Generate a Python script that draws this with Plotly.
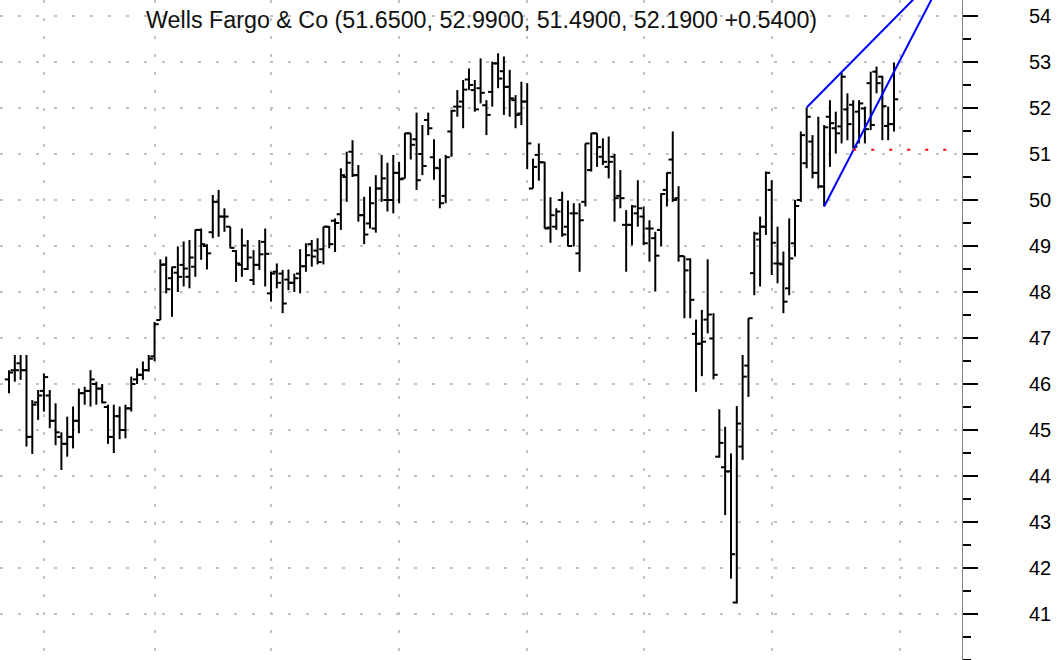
import plotly.graph_objects as go

# Daily prices, one entry per trading session
opens = [46.10, 46.30, 46.45, 46.30, 44.85, 45.60, 45.85, 45.75, 45.20, 44.85,
         44.70, 44.85, 45.20, 45.80, 45.85, 46.00, 45.90, 45.50, 44.85, 45.30,
         45.00, 45.47, 46.10, 46.20, 46.30, 46.60, 47.39, 48.60, 48.30, 48.42,
         48.59, 48.33, 48.55, 49.35, 49.00, 49.30, 49.96, 49.64, 49.42, 48.89,
         48.59, 48.50, 48.26, 48.59, 49.09, 47.97, 48.44, 48.40, 48.27, 48.20,
         48.40, 48.56, 49.04, 48.90, 48.93, 49.42, 49.55, 49.69, 50.50, 51.05,
         50.54, 49.67, 49.49, 49.38, 50.25, 50.00, 50.00, 50.59, 50.47, 51.45,
         51.32, 51.00, 51.74, 50.93, 50.69, 50.09, 51.49, 52.03, 52.14, 52.62,
         52.39, 52.43, 52.06, 52.35, 52.97, 52.80, 52.46, 52.17, 51.88, 52.14,
         50.25, 50.98, 50.82, 49.40, 49.42, 50.00, 49.42, 49.71, 48.84, 49.96,
         50.65, 51.45, 50.94, 50.72, 50.94, 50.09, 49.46, 49.46, 49.71, 49.64,
         49.38, 49.17, 49.35, 50.22, 50.88, 50.04, 48.78, 48.71, 47.09, 46.88,
         47.40, 46.99, 44.42, 44.19, 44.10, 41.25, 44.64, 46.40, 48.41, 49.14,
         49.42, 50.22, 48.62, 48.60, 48.08, 49.06, 50.00, 50.80, 51.27, 50.59,
         50.29, 51.81, 51.56, 51.60, 51.97, 52.07, 51.92, 51.99, 52.54, 52.79,
         52.68, 51.61, 51.65]
highs = [46.30, 46.63, 46.63, 46.63, 45.65, 45.87, 46.23, 45.87, 45.58, 44.95,
         45.29, 45.51, 45.90, 45.94, 46.30, 46.05, 46.00, 45.55, 45.55, 45.51,
         45.55, 46.16, 46.34, 46.49, 46.63, 47.35, 48.71, 48.77, 48.55, 48.99,
         49.10, 49.13, 49.36, 49.38, 49.04, 50.11, 50.22, 49.82, 49.42, 48.91,
         49.38, 49.13, 48.91, 49.13, 49.38, 48.44, 48.62, 48.48, 48.49, 48.40,
         48.93, 49.06, 49.13, 49.17, 49.42, 49.43, 49.60, 50.69, 51.05, 51.30,
         50.76, 50.07, 50.29, 50.54, 50.98, 50.81, 50.98, 50.83, 51.46, 51.45,
         51.90, 51.63, 51.90, 51.32, 50.90, 50.98, 51.96, 52.39, 52.61, 52.86,
         52.61, 53.08, 52.17, 53.01, 53.19, 53.12, 52.83, 52.28, 52.57, 52.54,
         50.90, 51.23, 50.83, 50.06, 49.82, 50.18, 49.99, 49.93, 49.93, 51.23,
         51.46, 51.45, 51.34, 51.38, 51.00, 50.65, 49.78, 49.89, 50.43, 49.86,
         49.56, 49.31, 50.15, 50.60, 51.49, 50.30, 48.78, 48.73, 47.40, 47.61,
         48.71, 47.54, 45.45, 45.07, 44.49, 45.52, 46.63, 47.43, 49.31, 49.64,
         50.62, 50.43, 49.42, 48.88, 49.60, 50.00, 51.49, 52.01, 51.41, 51.81,
         51.63, 52.17, 51.92, 52.77, 52.32, 52.17, 52.17, 52.03, 52.79, 52.90,
         52.70, 52.03, 52.99]
lows = [45.80, 46.05, 46.09, 44.64, 44.48, 45.22, 45.40, 45.04, 44.67, 44.13,
        44.42, 44.60, 44.93, 45.55, 45.51, 45.55, 45.58, 44.70, 44.50, 44.80,
        44.82, 45.40, 46.00, 46.09, 46.27, 46.50, 47.39, 47.97, 47.46, 48.00,
        48.12, 48.08, 48.33, 48.70, 48.49, 49.17, 49.20, 49.31, 48.95, 48.22,
        48.33, 48.48, 48.15, 48.48, 48.12, 47.79, 48.08, 47.54, 48.04, 48.00,
        47.97, 48.44, 48.55, 48.60, 48.60, 48.95, 48.87, 49.35, 49.96, 50.50,
        49.53, 49.04, 49.38, 49.29, 49.96, 49.75, 49.71, 49.93, 50.47, 50.88,
        50.22, 50.54, 51.41, 50.44, 49.82, 49.93, 50.94, 51.81, 51.56, 52.39,
        51.92, 52.10, 51.41, 52.03, 52.43, 51.85, 51.81, 51.56, 51.63, 50.67,
        50.25, 50.42, 49.38, 49.07, 49.35, 49.20, 48.99, 48.99, 48.44, 49.86,
        50.62, 50.72, 50.76, 50.47, 49.53, 49.82, 48.44, 49.02, 49.42, 49.02,
        48.66, 48.01, 48.99, 49.86, 49.96, 48.66, 47.43, 47.43, 45.83, 46.17,
        47.10, 46.10, 44.40, 43.15, 41.77, 41.23, 44.35, 45.72, 47.93, 48.12,
        49.24, 48.37, 48.19, 47.54, 47.93, 48.77, 49.96, 50.69, 50.47, 50.25,
        49.86, 50.72, 51.01, 51.23, 51.30, 51.12, 51.23, 51.23, 51.52, 52.32,
        51.30, 51.30, 51.49]
closes = [46.25, 46.30, 46.30, 44.85, 45.55, 45.75, 46.15, 45.20, 44.95, 44.70,
          44.85, 45.20, 45.80, 45.85, 46.10, 45.90, 45.60, 44.85, 45.30, 45.00,
          45.47, 46.00, 46.20, 46.30, 46.55, 47.30, 48.59, 48.06, 48.54, 48.33,
          48.51, 48.75, 49.35, 49.04, 48.84, 49.96, 49.64, 49.64, 48.96, 48.62,
          49.01, 48.75, 48.59, 48.82, 48.83, 48.40, 48.20, 47.75, 48.20, 48.30,
          48.56, 48.80, 48.77, 48.65, 49.42, 49.04, 49.50, 50.54, 50.81, 50.54,
          49.67, 49.25, 49.93, 50.25, 50.47, 50.00, 50.59, 50.45, 51.45, 51.20,
          50.43, 50.74, 51.56, 50.70, 49.93, 50.93, 51.94, 52.03, 52.40, 52.50,
          51.97, 52.33, 51.85, 52.97, 52.64, 52.46, 52.21, 51.85, 52.14, 51.23,
          50.72, 50.82, 49.38, 49.67, 49.75, 49.25, 49.00, 49.71, 49.56, 51.23,
          51.45, 51.15, 50.83, 50.83, 50.04, 50.04, 49.46, 49.86, 49.82, 49.06,
          49.38, 48.79, 50.13, 50.59, 50.00, 48.78, 48.47, 47.83, 46.87, 46.92,
          47.51, 46.20, 44.72, 44.10, 42.30, 45.14, 46.16, 47.43, 49.27, 49.42,
          50.59, 49.07, 48.62, 47.79, 48.73, 49.87, 51.41, 51.81, 50.59, 50.30,
          51.58, 51.67, 51.45, 52.68, 51.65, 51.16, 52.10, 51.54, 51.63, 52.54,
          52.04, 51.65, 52.19]

# Session index where each month begins (vertical grid)
month_starts = [6, 25, 45, 67, 89, 109, 131, 153]
price_ticks = list(range(41, 55))
price_labels = [str(p) for p in price_ticks]

title_text = "Wells Fargo & Co (51.6500, 52.9900, 51.4900, 52.1900 +0.5400)"

# Drawn studies: (session index, price) end points
upper_trend = [(137, 52.01), (160, 54.96)]
lower_trend = [(140, 49.86), (160, 54.74)]
support_level = 51.09
support_span = (145, 162)

TICK = 0.72  # open/close tick length in sessions

bx, by = [], []
for i, (o, h, l, c) in enumerate(zip(opens, highs, lows, closes)):
    bx += [i, i, None, i - TICK, i, None, i, i + TICK, None]
    by += [l, h, None, o, o, None, c, c, None]

fig = go.Figure()
fig.add_trace(go.Scatter(x=bx, y=by, mode="lines",
                         line=dict(color="black", width=2),
                         hoverinfo="skip", connectgaps=False))

for seg in (upper_trend, lower_trend):
    fig.add_trace(go.Scatter(x=[p[0] for p in seg], y=[p[1] for p in seg],
                             mode="lines", line=dict(color="#0000ff", width=2),
                             hoverinfo="skip"))

fig.add_trace(go.Scatter(x=list(support_span), y=[support_level, support_level],
                         mode="lines",
                         line=dict(color="#ff0000", width=2, dash="3px,15px"),
                         hoverinfo="skip"))

n = len(opens)
px_per_bar = (894 - 9) / (n - 1)
x_lo = -9 / px_per_bar
x_hi = (n - 1) + (962 - 894) / px_per_bar

grid_col = "#c3c3c3"
font_family = "Liberation Sans, Arial, sans-serif"

fig.update_layout(
    width=1061, height=660,
    margin=dict(l=0, r=99, t=0, b=0),
    plot_bgcolor="white", paper_bgcolor="white",
    showlegend=False,
    font=dict(family=font_family, color="black"),
)
fig.update_xaxes(
    range=[x_lo, x_hi], tickmode="array", tickvals=month_starts,
    showticklabels=False, ticks="", showline=False, zeroline=False,
    showgrid=True, gridcolor=grid_col, gridwidth=2, griddash="3px,15px",
)
fig.update_yaxes(
    side="right", range=[40.0, 54.348],
    tickmode="array", tickvals=price_ticks, ticktext=price_labels,
    ticks="outside", ticklen=15, tickwidth=2, tickcolor="black",
    showline=True, linecolor="#808080", linewidth=1,
    showgrid=True, gridcolor=grid_col, gridwidth=2, griddash="3px,15px",
    zeroline=False,
    tickfont=dict(family=font_family, size=20, color="black"),
    ticklabelstandoff=47,
    minor=dict(tickmode="linear", tick0=0, dtick=0.5, ticks="outside",
               ticklen=8, tickwidth=2, tickcolor="black", showgrid=False),
)

fig.add_annotation(text=title_text, xref="paper", yref="paper",
                   x=0.5, y=1 - 20 / 660, xanchor="center", yanchor="middle",
                   showarrow=False,
                   font=dict(family=font_family, size=23.3, color="#111111"))

fig.write_html("out.html")
